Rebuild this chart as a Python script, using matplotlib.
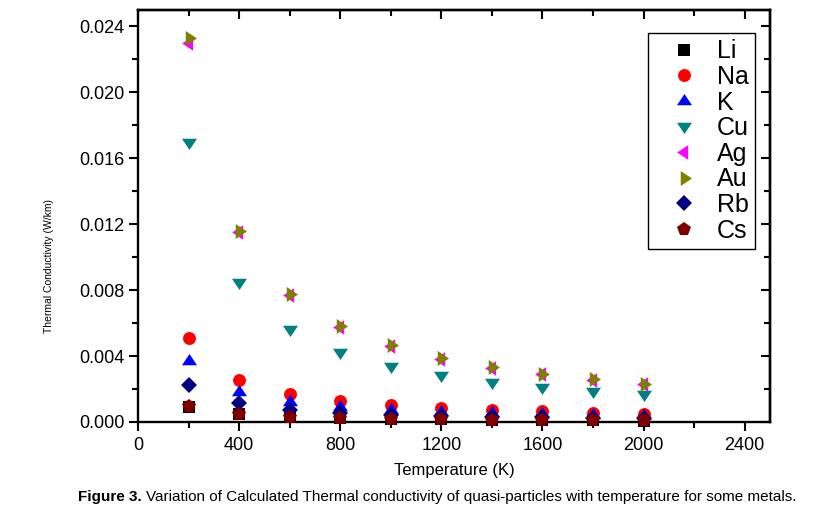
import matplotlib
matplotlib.use("Agg")
import matplotlib.pyplot as plt
from matplotlib import font_manager
from matplotlib.ticker import MultipleLocator

# ---------------- data ----------------
temperature = [200, 400, 600, 800, 1000, 1200, 1400, 1600, 1800, 2000]
li = [0.00093, 0.00046, 0.00031, 0.00023, 0.00019, 0.00016, 0.00013, 0.00012, 0.00010, 0.00009]
na = [0.00512, 0.00255, 0.00170, 0.00128, 0.00102, 0.00085, 0.00073, 0.00064, 0.00057, 0.00051]
k = [0.00370, 0.00185, 0.00123, 0.00093, 0.00074, 0.00062, 0.00053, 0.00046, 0.00041, 0.00037]
cu = [0.01700, 0.00850, 0.00567, 0.00425, 0.00340, 0.00283, 0.00243, 0.00213, 0.00189, 0.00170]
ag = [0.02300, 0.01155, 0.00770, 0.00578, 0.00462, 0.00385, 0.00330, 0.00289, 0.00257, 0.00231]
au = [0.02330, 0.01160, 0.00775, 0.00582, 0.00466, 0.00388, 0.00333, 0.00291, 0.00259, 0.00233]
rb = [0.00225, 0.00113, 0.00075, 0.00056, 0.00045, 0.00038, 0.00032, 0.00028, 0.00025, 0.00023]
cs = [0.00097, 0.00048, 0.00032, 0.00024, 0.00019, 0.00016, 0.00014, 0.00012, 0.00011, 0.00010]

series_names = ["Li", "Na", "K", "Cu", "Ag", "Au", "Rb", "Cs"]
x_ticks = [0, 400, 800, 1200, 1600, 2000, 2400]
y_ticks = [0.000, 0.004, 0.008, 0.012, 0.016, 0.020, 0.024]
x_label = "Temperature (K)"
y_label = "Thermal Conductivity (W/km)"
caption_bold = "Figure 3."
caption_rest = "Variation of Calculated Thermal conductivity of quasi-particles with temperature for some metals."

# ---------------- style ----------------
def available(name):
    try:
        font_manager.findfont(font_manager.FontProperties(family=name), fallback_to_default=False)
        return True
    except Exception:
        return False

BASE = "Liberation Sans"
NARROW = "Liberation Sans Narrow" if available("Liberation Sans Narrow") else BASE
plt.rcParams["font.family"] = [BASE, "DejaVu Sans"]

# centroid-centred triangles (Origin style)
tri_up = [(0, 0.5), (0.5, -0.25), (-0.5, -0.25), (0, 0.5)]
tri_down = [(x, -y) for x, y in tri_up]
tri_right = [(y, x) for x, y in tri_up]
tri_left = [(-y, x) for x, y in tri_up]

W, H = 813, 517
fig = plt.figure(figsize=(W / 100, H / 100), dpi=100)
ax = fig.add_axes([138 / W, (H - 422) / H, (770 - 138) / W, (422 - 10) / H])

styles = {
    "Li": dict(marker="s", color="#000000", ms=8.5),
    "Na": dict(marker="o", color="#FF0000", ms=9.3),
    "K": dict(marker=tri_up, color="#0000FF", ms=10.8),
    "Cu": dict(marker=tri_down, color="#008080", ms=10.8),
    "Ag": dict(marker=tri_left, color="#FF00FF", ms=10.5),
    "Au": dict(marker=tri_right, color="#808000", ms=10.8),
    "Rb": dict(marker="D", color="#000080", ms=8.3),
    "Cs": dict(marker="p", color="#800000", ms=10),
}
values = {"Li": li, "Na": na, "K": k, "Cu": cu, "Ag": ag, "Au": au, "Rb": rb, "Cs": cs}

for name in series_names:
    st = styles[name]
    ax.plot(temperature, values[name], linestyle="none", marker=st["marker"],
            color=st["color"], markersize=st["ms"], markeredgewidth=0,
            label=name, clip_on=False, zorder=3)

ax.set_xlim(0, 2500)
ax.set_ylim(0, 0.025)
ax.set_xticks(x_ticks)
ax.set_xticklabels([str(v) for v in x_ticks])
ax.set_yticks(y_ticks)
ax.set_yticklabels([f"{v:.3f}" for v in y_ticks])
ax.xaxis.set_minor_locator(MultipleLocator(200))
ax.yaxis.set_minor_locator(MultipleLocator(0.002))

for sp in ax.spines.values():
    sp.set_linewidth(1.7)

ax.tick_params(axis="both", which="major", direction="out", length=6.5, width=1.5,
               labelsize=13, top=False, right=False)
ax.tick_params(axis="y", which="major", pad=3)
ax.tick_params(axis="x", which="major", pad=4)
ax.tick_params(axis="both", which="minor", direction="out", length=4, width=1.5,
               top=False, right=False)

# mirrored inward ticks on top and right
secx = ax.secondary_xaxis("top")
secx.set_xticks(x_ticks)
secx.xaxis.set_minor_locator(MultipleLocator(200))
secx.tick_params(which="major", direction="in", length=6.5, width=1.5, labeltop=False)
secx.tick_params(which="minor", direction="in", length=4, width=1.5)
secx.spines["top"].set_linewidth(1.7)
secy = ax.secondary_yaxis("right")
secy.set_yticks(y_ticks)
secy.yaxis.set_minor_locator(MultipleLocator(0.002))
secy.tick_params(which="major", direction="in", length=6.5, width=1.5, labelright=False)
secy.tick_params(which="minor", direction="in", length=4, width=1.5)
secy.spines["right"].set_linewidth(1.7)

ax.set_xlabel(x_label, fontsize=12, labelpad=7)
ylab_fs = 9.0 if NARROW != BASE else 7.5
fig.text(49 / W, (H - 266) / H, y_label, rotation=90, ha="center", va="center",
         fontsize=ylab_fs, family=[NARROW, "DejaVu Sans"])

leg = ax.legend(loc="upper right", bbox_to_anchor=(755 / W, (H - 33) / H),
                bbox_transform=fig.transFigure, borderaxespad=0, frameon=True,
                fancybox=False, framealpha=1, edgecolor="black", fontsize=18,
                labelspacing=0.065, handlelength=2.36, handletextpad=0.14,
                borderpad=0.25, markerscale=1.0)
leg.get_frame().set_linewidth(1.0)

# caption
y_cap = (H - 497) / H
fam = [NARROW, "DejaVu Sans"]
fs = 12
fig.canvas.draw()
r = fig.canvas.get_renderer()
t1 = fig.text(78 / W, y_cap, caption_bold, fontsize=fs, weight="bold", family=fam, va="center")
bb1 = t1.get_window_extent(r)
t2 = fig.text(bb1.x1 / W + 4 / W, y_cap, caption_rest, fontsize=fs, family=fam, va="center")
bb2 = t2.get_window_extent(r)
total = bb2.x1 - bb1.x0
scale = (801 - 78) / total
fs2 = fs * scale
t1.set_fontsize(fs2)
fig.canvas.draw()
bb1 = t1.get_window_extent(r)
t2.set_fontsize(fs2)
t2.set_x(bb1.x1 / W + 4 / W)

fig.savefig("out.png", dpi=100)
